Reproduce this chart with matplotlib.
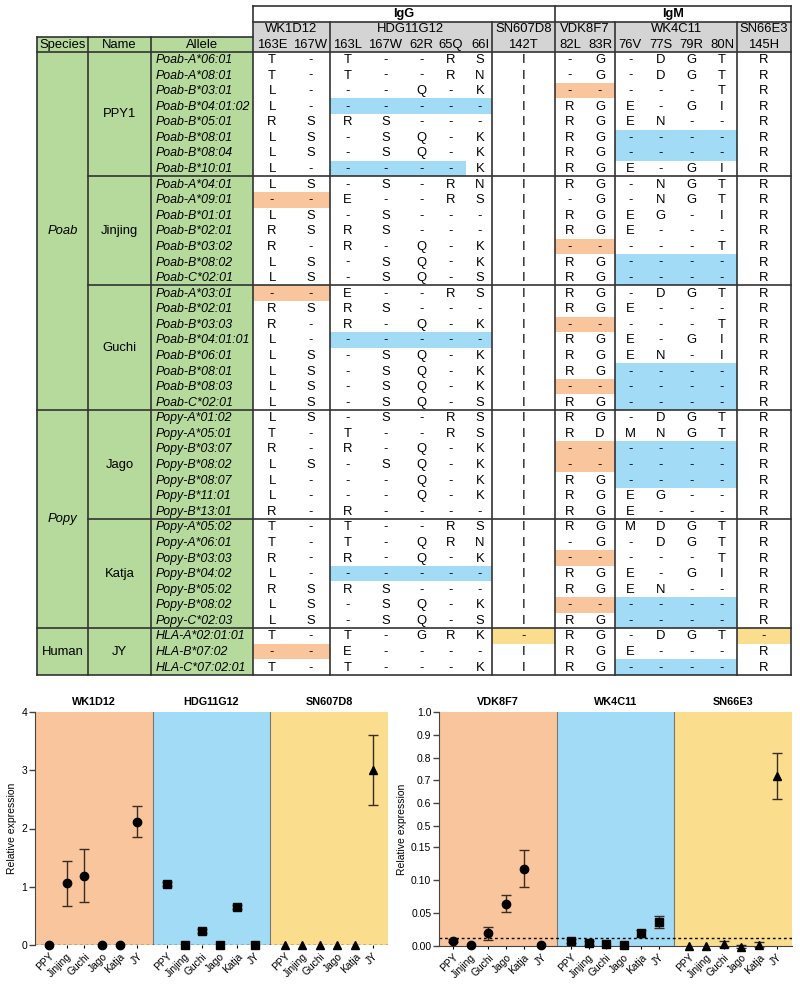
import numpy as np
import matplotlib.pyplot as plt
from matplotlib.patches import Rectangle

plt.rcParams['font.family'] = ['Liberation Sans', 'DejaVu Sans']

# ---------------- table data ----------------
antibodies = ['WK1D12', 'HDG11G12', 'SN607D8', 'VDK8F7', 'WK4C11', 'SN66E3']
isotypes = [('IgG', 0, 3), ('IgM', 3, 6)]
positions = [['163E', '167W'], ['163L', '167W', '62R', '65Q', '66I'], ['142T'],
             ['82L', '83R'], ['76V', '77S', '79R', '80N'], ['145H']]

species = ['Poab', 'Popy', 'Human']
species_rows = [23, 14, 3]
names = ['PPY1', 'Jinjing', 'Guchi', 'Jago', 'Katja', 'JY']
name_rows = [8, 7, 8, 7, 7, 3]

alleles = [
    'Poab-A*06:01', 'Poab-A*08:01', 'Poab-B*03:01', 'Poab-B*04:01:02', 'Poab-B*05:01',
    'Poab-B*08:01', 'Poab-B*08:04', 'Poab-B*10:01',
    'Poab-A*04:01', 'Poab-A*09:01', 'Poab-B*01:01', 'Poab-B*02:01', 'Poab-B*03:02',
    'Poab-B*08:02', 'Poab-C*02:01',
    'Poab-A*03:01', 'Poab-B*02:01', 'Poab-B*03:03', 'Poab-B*04:01:01', 'Poab-B*06:01',
    'Poab-B*08:01', 'Poab-B*08:03', 'Poab-C*02:01',
    'Popy-A*01:02', 'Popy-A*05:01', 'Popy-B*03:07', 'Popy-B*08:02', 'Popy-B*08:07',
    'Popy-B*11:01', 'Popy-B*13:01',
    'Popy-A*05:02', 'Popy-A*06:01', 'Popy-B*03:03', 'Popy-B*04:02', 'Popy-B*05:02',
    'Popy-B*08:02', 'Popy-C*02:03',
    'HLA-A*02:01:01', 'HLA-B*07:02', 'HLA-C*07:02:01',
]

# 15 residue columns per allele
residues = [
    'T - T - - R S I - G - D G T R',
    'T - T - - R N I - G - D G T R',
    'L - - - Q - K I - - - - - T R',
    'L - - - - - - I R G E - G I R',
    'R S R S - - - I R G E N - - R',
    'L S - S Q - K I R G - - - - R',
    'L S - S Q - K I R G - - - - R',
    'L - - - - - K I R G E - G I R',
    'L S - S - R N I R G - N G T R',
    '- - E - - R S I - G - N G T R',
    'L S - S - - - I R G E G - I R',
    'R S R S - - - I R G E - - - R',
    'R - R - Q - K I - - - - - T R',
    'L S - S Q - K I R G - - - - R',
    'L S - S Q - S I R G - - - - R',
    '- - E - - R S I R G - D G T R',
    'R S R S - - - I R G E - - - R',
    'R - R - Q - K I - - - - - T R',
    'L - - - - - - I R G E - G I R',
    'L S - S Q - K I R G E N - I R',
    'L S - S Q - K I R G - - - - R',
    'L S - S Q - K I - - - - - - R',
    'L S - S Q - S I R G - - - - R',
    'L S - S - R S I R G - D G T R',
    'T - T - - R S I R D M N G T R',
    'R - R - Q - K I - - - - - - R',
    'L S - S Q - K I - - - - - - R',
    'L - - - Q - K I R G - - - - R',
    'L - - - Q - K I R G E G - - R',
    'R - R - - - - I R G E - - - R',
    'T - T - - R S I R G M D G T R',
    'T - T - Q R N I - G - D G T R',
    'R - R - Q - K I - - - - - T R',
    'L - - - - - - I R G E - G I R',
    'R S R S - - - I R G E N - - R',
    'L S - S Q - K I - - - - - - R',
    'L S - S Q - S I R G - - - - R',
    'T - T - G R K - R G - D G T -',
    '- - E - - - - I R G E - - - R',
    'T - T - - - K I R G - - - - R',
]

# o = orange, b = blue, y = yellow
highlights = [
    '.. ..... . .. .... .', '.. ..... . .. .... .', '.. ..... . oo .... .',
    '.. bbbbb . .. .... .', '.. ..... . .. .... .', '.. ..... . .. bbbb .',
    '.. ..... . .. bbbb .', '.. bbbb. . .. .... .',
    '.. ..... . .. .... .', 'oo ..... . .. .... .', '.. ..... . .. .... .',
    '.. ..... . .. .... .', '.. ..... . oo .... .', '.. ..... . .. bbbb .',
    '.. ..... . .. bbbb .',
    'oo ..... . .. .... .', '.. ..... . .. .... .', '.. ..... . oo .... .',
    '.. bbbbb . .. .... .', '.. ..... . .. .... .', '.. ..... . .. bbbb .',
    '.. ..... . oo bbbb .', '.. ..... . .. bbbb .',
    '.. ..... . .. .... .', '.. ..... . .. .... .', '.. ..... . oo bbbb .',
    '.. ..... . oo bbbb .', '.. ..... . .. bbbb .', '.. ..... . .. .... .',
    '.. ..... . .. .... .',
    '.. ..... . .. .... .', '.. ..... . .. .... .', '.. ..... . oo .... .',
    '.. bbbbb . .. .... .', '.. ..... . .. .... .', '.. ..... . oo bbbb .',
    '.. ..... . .. bbbb .',
    '.. ..... y .. .... y', 'oo ..... . .. .... .', '.. ..... . .. bbbb .',
]

# ---------------- expression data ----------------
cell_lines = ['PPY', 'Jinjing', 'Guchi', 'Jago', 'Katja', 'JY']

igg_names = ['WK1D12', 'HDG11G12', 'SN607D8']
wk1d12_mean = [0.0, 1.06, 1.19, 0.0, 0.0, 2.12]
wk1d12_err = [0.0, 0.39, 0.45, 0.0, 0.0, 0.27]
hdg11g12_mean = [1.05, 0.0, 0.24, 0.0, 0.65, 0.0]
hdg11g12_err = [0.04, 0.0, 0.03, 0.0, 0.03, 0.0]
sn607d8_mean = [0.0, 0.0, 0.0, 0.0, 0.0, 3.01]
sn607d8_err = [0.0, 0.0, 0.0, 0.0, 0.0, 0.6]
igg_cutoff = 0.0

igm_names = ['VDK8F7', 'WK4C11', 'SN66E3']
vdk8f7_mean = [0.008, 0.001, 0.019, 0.064, 0.117, 0.002]
vdk8f7_err = [0.002, 0.0, 0.010, 0.013, 0.028, 0.0]
wk4c11_mean = [0.008, 0.005, 0.003, 0.002, 0.019, 0.036]
wk4c11_err = [0.003, 0.003, 0.0, 0.0, 0.005, 0.009]
sn66e3_mean = [0.0, 0.0, 0.003, -0.001, 0.002, 0.72]
sn66e3_err = [0.0, 0.0, 0.005, 0.002, 0.004, 0.1]
igm_cutoff = 0.0115

# ---------------- colours ----------------
ORANGE = '#F9C59C'
BLUE = '#A2DBF5'
YELLOW = '#FADE8D'
GREEN = '#B6D99C'
GREY = '#D4D4D4'
LINE = '#333333'
hl_colors = {'o': ORANGE, 'b': BLUE, 'y': YELLOW}

fig = plt.figure(figsize=(8, 9.86), dpi=100)

# ---------------- table (pixel layout) ----------------
axt = fig.add_axes([0, 0, 1, 1])
axt.set_xlim(0, 800)
axt.set_ylim(986, 0)
axt.axis('off')

group_edges = [253, 330, 491.7, 555, 615, 737.3, 790.7]
col_centers = [272, 310.5, 347.5, 385.5, 421.5, 451, 480, 523.3,
               570, 600, 630.3, 660.9, 691.5, 722, 764]
x_left, x_name, x_allele = 36.7, 88.3, 151
y_top, y_ab, y_pos, y_body = 6, 21.5, 36.5, 51.7
rh = 15.58
n_rows = len(alleles)
y_bottom = y_body + rh * n_rows

# column membership & cell boundaries
col_group = []
for g, pos in enumerate(positions):
    col_group += [g] * len(pos)
cell_l, cell_r = [], []
for c in range(len(col_centers)):
    g = col_group[c]
    left = group_edges[g] if c == 0 or col_group[c - 1] != g else (col_centers[c - 1] + col_centers[c]) / 2
    right = group_edges[g + 1] if c == len(col_centers) - 1 or col_group[c + 1] != g else (col_centers[c] + col_centers[c + 1]) / 2
    cell_l.append(left)
    cell_r.append(right)

# backgrounds
axt.add_patch(Rectangle((x_left, y_pos), group_edges[0] - x_left, y_bottom - y_pos, color=GREEN, lw=0))
axt.add_patch(Rectangle((group_edges[0], y_ab), group_edges[-1] - group_edges[0], y_body - y_ab, color=GREY, lw=0))

for r in range(n_rows):
    codes = highlights[r].replace(' ', '')
    y0 = y_body + r * rh
    for c, code in enumerate(codes):
        if code in hl_colors:
            axt.add_patch(Rectangle((cell_l[c], y0), cell_r[c] - cell_l[c], rh, color=hl_colors[code], lw=0))

fs = 9.4
# header rows
for label, g0, g1 in isotypes:
    axt.text((group_edges[g0] + group_edges[g1]) / 2, (y_top + y_ab) / 2, label, ha='center', va='center',
             fontsize=fs - 0.2, fontweight='bold')
for g, ab in enumerate(antibodies):
    axt.text((group_edges[g] + group_edges[g + 1]) / 2, (y_ab + y_pos) / 2 + 0.5, ab, ha='center', va='center', fontsize=fs)
all_pos = [p for pos in positions for p in pos]
for c, p in enumerate(all_pos):
    axt.text(col_centers[c], (y_pos + y_body) / 2 + 0.5, p, ha='center', va='center', fontsize=fs)
axt.text((x_left + x_name) / 2, (y_pos + y_body) / 2 + 0.5, 'Species', ha='center', va='center', fontsize=fs)
axt.text((x_name + x_allele) / 2, (y_pos + y_body) / 2 + 0.5, 'Name', ha='center', va='center', fontsize=fs)
axt.text((x_allele + group_edges[0]) / 2, (y_pos + y_body) / 2 + 0.5, 'Allele', ha='center', va='center', fontsize=fs)

# body text
for r in range(n_rows):
    yc = y_body + (r + 0.5) * rh + 0.5
    axt.text(x_allele + 4.5, yc, alleles[r], ha='left', va='center', fontsize=8.9, style='italic')
    for c, res in enumerate(residues[r].split()):
        axt.text(col_centers[c], yc, res, ha='center', va='center', fontsize=fs)

start = 0
for sp, n in zip(species, species_rows):
    yc = y_body + (start + n / 2) * rh
    axt.text((x_left + x_name) / 2, yc, sp, ha='center', va='center', fontsize=fs,
             style='normal' if sp == 'Human' else 'italic')
    start += n
start = 0
for nm, n in zip(names, name_rows):
    yc = y_body + (start + n / 2) * rh
    axt.text((x_name + x_allele) / 2, yc, nm, ha='center', va='center', fontsize=fs)
    start += n

# grid lines
lw = 1.2
axt.plot([group_edges[0], group_edges[-1]], [y_top, y_top], color=LINE, lw=lw)
axt.plot([group_edges[0], group_edges[-1]], [y_ab, y_ab], color=LINE, lw=lw)
axt.plot([x_left, group_edges[0]], [y_pos, y_pos], color=LINE, lw=lw)
axt.plot([x_left, group_edges[-1]], [y_body, y_body], color=LINE, lw=lw)
axt.plot([x_left, group_edges[-1]], [y_bottom, y_bottom], color=LINE, lw=lw)
for x in [x_left, x_name, x_allele]:
    axt.plot([x, x], [y_pos, y_bottom], color=LINE, lw=lw)
for g, x in enumerate(group_edges):
    top = y_top if g in (0, 3, 6) else y_ab
    axt.plot([x, x], [top, y_bottom], color=LINE, lw=lw)
cum = np.cumsum(name_rows)[:-1]
sp_cum = set(np.cumsum(species_rows)[:-1])
for k in cum:
    y = y_body + k * rh
    x0 = x_left if k in sp_cum else x_name
    axt.plot([x0, group_edges[-1]], [y, y], color=LINE, lw=lw)

# ---------------- expression panels ----------------
period = 6.68
bgs = [ORANGE, BLUE, YELLOW]
markers = ['o', 's', '^']


def draw_panel(ax, means, errs, titles, cutoff):
    for g in range(3):
        x0 = g * period
        ax.axvspan(x0 - 0.81, x0 + 5.87, color=bgs[g], lw=0, zorder=0)
        if g > 0:
            ax.axvline(x0 - 0.81, color='#777777', lw=0.8, zorder=1)
        x = x0 + np.arange(len(cell_lines))
        m = np.array(means[g])
        e = np.array(errs[g])
        has = e > 0
        ax.errorbar(x[has], m[has], yerr=e[has], fmt='none', ecolor='#3a2c22', elinewidth=1.0,
                    capsize=3.6, capthick=1.0, zorder=3, clip_on=False)
        ax.plot(x, m, ls='none', marker=markers[g], color='black', ms=6, zorder=4, clip_on=False)
        ax.text(x0 + 2.53, 1.02, titles[g], transform=ax.get_xaxis_transform(), ha='center', va='bottom',
                fontsize=7.8, fontweight='bold')
    ax.axhline(cutoff, color='black', lw=1.0, ls=(0, (2, 2)), zorder=2)
    ticks = np.concatenate([g * period + np.arange(len(cell_lines)) for g in range(3)])
    ax.set_xticks(ticks)
    ax.set_xticklabels(cell_lines * 3, rotation=45, ha='right', rotation_mode='anchor', fontsize=7.4)
    ax.set_xlim(-0.81, 2 * period + 5.87)
    ax.spines['top'].set_visible(False)
    ax.spines['right'].set_visible(False)
    ax.spines['left'].set_color('#444444')
    ax.tick_params(axis='x', length=2.5, width=0.8, pad=2)
    ax.tick_params(axis='y', length=4, width=1, labelsize=7.5, pad=1.5, color='#444444')
    ax.set_ylabel('Relative expression', fontsize=7.5, labelpad=3)


ax1 = fig.add_axes([35 / 800, 1 - 945 / 986, 353 / 800, 233 / 986])
draw_panel(ax1, [wk1d12_mean, hdg11g12_mean, sn607d8_mean], [wk1d12_err, hdg11g12_err, sn607d8_err],
           igg_names, igg_cutoff)
ax1.set_ylim(0, 4)
ax1.set_yticks([0, 1, 2, 3, 4])
ax1.spines['bottom'].set_visible(False)

# segmented y axis: 0-0.15 expanded, 0.5-1.0 compressed
seg_in = [-1.0, 0.0, 0.15, 0.5, 1.0, 2.0]
seg_out = [-660.0, 0.0, 99.0, 120.0, 234.0, 462.0]


def fwd(y):
    return np.interp(y, seg_in, seg_out)


def inv(v):
    return np.interp(v, seg_out, seg_in)


ax2 = fig.add_axes([439 / 800, 1 - 946 / 986, 353 / 800, 234 / 986])
ax2.set_yscale('function', functions=(fwd, inv))
draw_panel(ax2, [vdk8f7_mean, wk4c11_mean, sn66e3_mean], [vdk8f7_err, wk4c11_err, sn66e3_err],
           igm_names, igm_cutoff)
ax2.set_ylim(0, 1.0)
yt = [0, 0.05, 0.10, 0.15, 0.5, 0.6, 0.7, 0.8, 0.9, 1.0]
ax2.set_yticks(yt)
ax2.set_yticklabels(['0.00', '0.05', '0.10', '0.15', '0.5', '0.6', '0.7', '0.8', '0.9', '1.0'])
ax2.minorticks_off()
ax2.spines['bottom'].set_color('#444444')

fig.savefig('out.png', dpi=100)
